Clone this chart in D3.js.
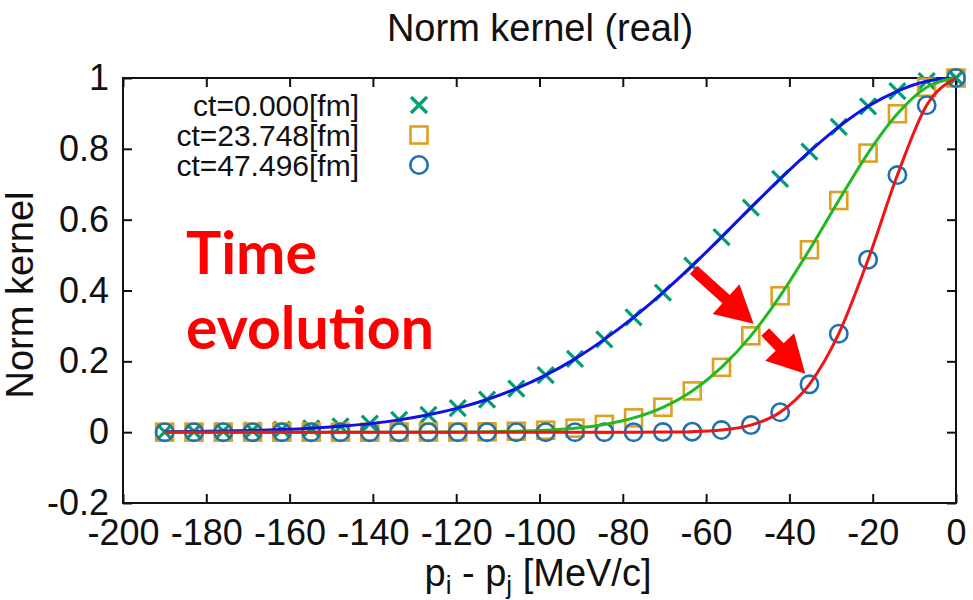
<!DOCTYPE html>
<html>
<head>
<meta charset="utf-8">
<script src="https://cdn.jsdelivr.net/npm/d3@7"></script>
<style>
    body { margin: 0; background: #fff; }
    text { font-family: 'Liberation Sans', Arial, sans-serif; fill: #111; }
</style>
</head>
<body>
<svg class="norm-kernel"></svg>
<script>
const TITLE = 'Norm kernel (real)'
const Y_LABEL = 'Norm kernel'
const LEGEND_LABELS = ['ct=0.000[fm]', 'ct=23.748[fm]', 'ct=47.496[fm]']

// p_i - p_j [MeV/c]
const MOMENTUM = [-190.00, -182.96, -175.93, -168.89, -161.85, -154.81, -147.78, -140.74,
    -133.70, -126.67, -119.63, -112.59, -105.56, -98.52, -91.48, -84.44, -77.41, -70.37,
    -63.33, -56.30, -49.26, -42.22, -35.19, -28.15, -21.11, -14.07, -7.04, 0.00]

const KERNEL_T0 = [0.0011, 0.0019, 0.0030, 0.0047, 0.0073, 0.0110, 0.0165, 0.0241,
    0.0347, 0.0490, 0.0678, 0.0922, 0.123, 0.161, 0.207, 0.262, 0.324, 0.394,
    0.470, 0.551, 0.634, 0.715, 0.792, 0.862, 0.920, 0.963, 0.991, 1.000]

const KERNEL_T1 = [0, 0, 0, 0, 0, 0, 0, 0,
    0.0001, 0.0002, 0.0005, 0.0011, 0.0026, 0.0055, 0.0113, 0.0219, 0.0403, 0.0703,
    0.1165, 0.183, 0.272, 0.385, 0.515, 0.654, 0.788, 0.899, 0.974, 1.000]

const KERNEL_T2 = [0, 0, 0, 0, 0, 0, 0, 0,
    0, 0, 0, 0, 0, 0, 0, 0, 0, 0.0003,
    0.0015, 0.0060, 0.0199, 0.0562, 0.135, 0.278, 0.487, 0.726, 0.923, 1.000]

const X_TICKS = [-200, -180, -160, -140, -120, -100, -80, -60, -40, -20, 0]
const X_TICK_LABELS = ['-200', '-180', '-160', '-140', '-120', '-100', '-80', '-60', '-40', '-20', '0']
const Y_TICKS = [-0.2, 0, 0.2, 0.4, 0.6, 0.8, 1]
const Y_TICK_LABELS = ['-0.2', '0', '0.2', '0.4', '0.6', '0.8', '1']

// red "Time evolution" arrows, [p, kernel]
const ARROW_FROM = [[-63.0, 0.458], [-45.8, 0.283]]
const ARROW_TO = [[-48.6, 0.306], [-36.2, 0.165]]

const width = 973
const height = 600
const margin = { top: 78, right: 17, bottom: 97, left: 123 }

const MARKER_COLORS = ['#009e73', '#dfa020', '#1f72b0']
const LINE_COLORS = ['#1010e8', '#22b822', '#f01414']
const MARKERS = ['cross', 'square', 'circle']

function drawMarker(g, type, color) {
    if (type === 'cross') {
        g.append('path')
            .attr('d', 'M-8,-8L8,8M-8,8L8,-8')
            .attr('stroke', color)
            .attr('stroke-width', 3.2)
            .attr('fill', 'none')
    } else if (type === 'square') {
        g.append('rect')
            .attr('x', -8.5).attr('y', -8.5)
            .attr('width', 17).attr('height', 17)
            .attr('stroke', color)
            .attr('stroke-width', 2.6)
            .attr('fill', 'none')
    } else {
        g.append('circle')
            .attr('r', 8.7)
            .attr('stroke', color)
            .attr('stroke-width', 2.6)
            .attr('fill', 'none')
    }
}

function createChart(classGraph) {
    const svg = d3.select(classGraph)
        .attr('width', width)
        .attr('height', height)

    const x = d3.scaleLinear()
        .domain([-200, 0])
        .range([margin.left, width - margin.right])

    const y = d3.scaleLinear()
        .domain([-0.2, 1])
        .range([height - margin.bottom, margin.top])

    const series = [KERNEL_T0, KERNEL_T1, KERNEL_T2]

    // axes with inward ticks on all four sides
    const styleAxis = g => {
        g.select('.domain').remove()
        g.selectAll('.tick line').attr('stroke', '#111').attr('stroke-width', 2)
        g.selectAll('.tick text')
            .style('font-size', '36px')
            .attr('fill', '#111')
    }

    svg.append('g')
        .attr('transform', `translate(0,${y(-0.2)})`)
        .call(d3.axisBottom(x).tickValues(X_TICKS).tickSize(-9).tickPadding(16)
            .tickFormat((d, i) => X_TICK_LABELS[i]))
        .call(styleAxis)

    svg.append('g')
        .attr('transform', `translate(0,${y(1)})`)
        .call(d3.axisTop(x).tickValues(X_TICKS).tickSize(-9).tickFormat(''))
        .call(styleAxis)

    svg.append('g')
        .attr('transform', `translate(${x(-200)},0)`)
        .call(d3.axisLeft(y).tickValues(Y_TICKS).tickSize(-9).tickPadding(14)
            .tickFormat((d, i) => Y_TICK_LABELS[i]))
        .call(styleAxis)

    svg.append('g')
        .attr('transform', `translate(${x(0)},0)`)
        .call(d3.axisRight(y).tickValues(Y_TICKS).tickSize(-9).tickFormat(''))
        .call(styleAxis)

    svg.append('rect')
        .attr('x', x(-200))
        .attr('y', y(1))
        .attr('width', x(0) - x(-200))
        .attr('height', y(-0.2) - y(1))
        .attr('fill', 'none')
        .attr('stroke', '#111')
        .attr('stroke-width', 2)

    // data points
    series.forEach((values, s) => {
        const points = svg.append('g').attr('class', 'points-' + s)
        values.forEach((v, i) => {
            const g = points.append('g')
                .attr('transform', `translate(${x(MOMENTUM[i])},${y(v)})`)
            drawMarker(g, MARKERS[s], MARKER_COLORS[s])
        })
    })

    // smooth curves
    const line = d3.line()
        .x((d, i) => x(MOMENTUM[i]))
        .y(d => y(d))
        .curve(d3.curveMonotoneX)

    series.forEach((values, s) => {
        svg.append('path')
            .datum(values)
            .attr('d', line)
            .attr('fill', 'none')
            .attr('stroke', LINE_COLORS[s])
            .attr('stroke-width', 3)
    })

    createLegend(svg)
    createTexts(svg, x, y)
    createArrows(svg, x, y)
}

function createLegend(svg) {
    const legend = svg.selectAll('.legend')
        .data(LEGEND_LABELS)
        .enter().append('g')
        .attr('class', 'legend')
        .attr('transform', (d, i) => `translate(0,${105 + i * 30})`)

    legend.append('text')
        .attr('x', 359)
        .attr('dy', '.35em')
        .style('text-anchor', 'end')
        .style('font-size', '30px')
        .text(d => d)

    legend.each(function (d, i) {
        const g = d3.select(this).append('g').attr('transform', 'translate(419,0)')
        drawMarker(g, MARKERS[i], MARKER_COLORS[i])
    })
}

function createTexts(svg, x, y) {
    svg.append('text')
        .attr('x', 540)
        .attr('y', 41)
        .attr('text-anchor', 'middle')
        .style('font-size', '38px')
        .text(TITLE)

    svg.append('text')
        .attr('transform', 'translate(33,295) rotate(-90)')
        .attr('text-anchor', 'middle')
        .style('font-size', '38px')
        .text(Y_LABEL)

    const xLabel = svg.append('text')
        .attr('x', 538)
        .attr('y', 586)
        .attr('text-anchor', 'middle')
        .style('font-size', '38px')
    xLabel.append('tspan').text('p')
    xLabel.append('tspan').attr('dy', 8).style('font-size', '26px').text('i')
    xLabel.append('tspan').attr('dy', -8).text(' - p')
    xLabel.append('tspan').attr('dy', 8).style('font-size', '26px').text('j')
    xLabel.append('tspan').attr('dy', -8).text(' [MeV/c]')

    const note = svg.append('g')
        .style('font-weight', 'bold')
        .style('font-size', '59px')
    note.append('text')
        .attr('x', 186).attr('y', 274)
        .style('fill', '#ff0000')
        .style('font-family', 'Lato, sans-serif')
        .text('Time')
    note.append('text')
        .attr('x', 186).attr('y', 349)
        .style('fill', '#ff0000')
        .style('font-family', 'Lato, sans-serif')
        .text('evolution')
}

function createArrows(svg, x, y) {
    const shaft = 5.5
    const headHalf = 20
    const headLen = 37

    ARROW_FROM.forEach((from, i) => {
        const sx = x(from[0]), sy = y(from[1])
        const tx = x(ARROW_TO[i][0]), ty = y(ARROW_TO[i][1])
        const len = Math.hypot(tx - sx, ty - sy)
        const ux = (tx - sx) / len, uy = (ty - sy) / len
        const nx = -uy, ny = ux
        const bx = tx - ux * headLen, by = ty - uy * headLen
        const pts = [
            [sx + nx * shaft, sy + ny * shaft],
            [bx + nx * shaft, by + ny * shaft],
            [bx + nx * headHalf, by + ny * headHalf],
            [tx, ty],
            [bx - nx * headHalf, by - ny * headHalf],
            [bx - nx * shaft, by - ny * shaft],
            [sx - nx * shaft, sy - ny * shaft]
        ]
        svg.append('path')
            .attr('d', 'M' + pts.map(p => p.join(',')).join('L') + 'Z')
            .attr('fill', '#ff0000')
    })
}

createChart('.norm-kernel')
</script>
</body>
</html>
